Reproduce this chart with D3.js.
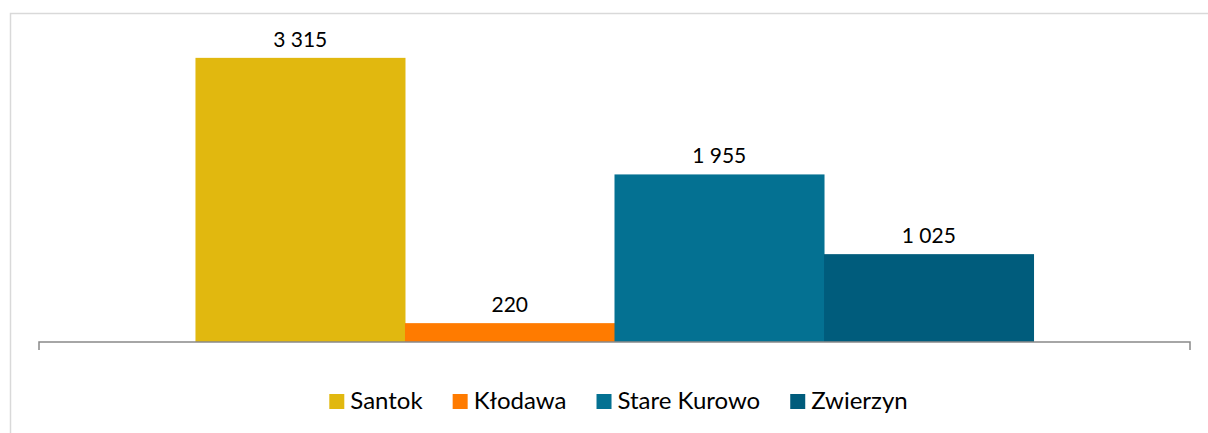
<!DOCTYPE html>
<html>
<head>
<meta charset="utf-8">
<script src="https://cdn.jsdelivr.net/npm/d3@7"></script>
<style>
  html, body { margin: 0; padding: 0; background: #ffffff; }
  svg { display: block; }
</style>
</head>
<body>
<svg id="chart" width="1208" height="433"></svg>
<script>
const categories = ["Gminy"];
const seriesNames = ["Santok", "Kłodawa", "Stare Kurowo", "Zwierzyn"];
const seriesValues = [3315, 220, 1955, 1025];
const valueLabels = ["3 315", "220", "1 955", "1 025"];
const seriesColors = ["#E1B80F", "#FF7B00", "#047192", "#005C7C"];

const W = 1208, H = 433;
const svg = d3.select("#chart");
const font = "Lato, 'Open Sans', 'Liberation Sans', sans-serif";

// chart frame (cropped by viewport)
svg.append("rect")
  .attr("x", 10.5).attr("y", 13.5)
  .attr("width", 1240).attr("height", 460)
  .attr("fill", "none").attr("stroke", "#D9D9D9").attr("stroke-width", 1.5);

const plotLeft = 39, plotRight = 1190, baseY = 342, topY = 42;

const x0 = d3.scaleBand().domain(categories).range([plotLeft, plotRight])
  .paddingInner(0).paddingOuter(0.1867);
const x1 = d3.scaleBand().domain(seriesNames).range([0, x0.bandwidth()]).padding(0);
const y = d3.scaleLinear().domain([0, 3500]).range([baseY, topY]);

const data = seriesNames.map((s, i) => ({ cat: categories[0], name: s, value: seriesValues[i], label: valueLabels[i], color: seriesColors[i] }));

const g = svg.append("g");
g.selectAll("rect.bar").data(data).enter().append("rect")
  .attr("class", "bar")
  .attr("x", d => x0(d.cat) + x1(d.name))
  .attr("y", d => y(d.value))
  .attr("width", x1.bandwidth() + 0.5)
  .attr("height", d => baseY - y(d.value))
  .attr("fill", d => d.color);

g.selectAll("text.val").data(data).enter().append("text")
  .attr("class", "val")
  .attr("x", d => x0(d.cat) + x1(d.name) + x1.bandwidth() / 2)
  .attr("y", d => y(d.value) - 11)
  .attr("text-anchor", "middle")
  .attr("font-family", font)
  .attr("font-size", 21)
  .attr("fill", "#000")
  .text(d => d.label);

// category axis
const axis = d3.axisBottom(x0).tickSize(0).tickFormat("");
const ax = svg.append("g").attr("transform", `translate(0,${baseY})`).call(axis);
ax.select(".domain").remove();
svg.append("path")
  .attr("d", `M${plotLeft},${baseY + 8}V${baseY}H${plotRight}V${baseY + 8}`)
  .attr("fill", "none").attr("stroke", "#898989").attr("stroke-width", 1.5);

// legend
const legend = svg.append("g");
let cx = 0;
const items = [];
const sq = 15, sqGap = 6, itemGap = 30;
data.forEach((d, i) => {
  const it = legend.append("g");
  it.append("rect").attr("x", 0).attr("y", -7).attr("width", sq).attr("height", sq).attr("fill", d.color);
  const t = it.append("text").attr("x", sq + sqGap).attr("y", 8)
    .attr("font-family", font).attr("font-size", 24).attr("fill", "#000").text(d.name);
  const w = sq + sqGap + t.node().getComputedTextLength();
  items.push({ it, x: cx });
  cx += w + itemGap;
});
const total = cx - itemGap;
const startX = 618.5 - total / 2;
items.forEach(o => o.it.attr("transform", `translate(${startX + o.x},401)`));
</script>
</body>
</html>
